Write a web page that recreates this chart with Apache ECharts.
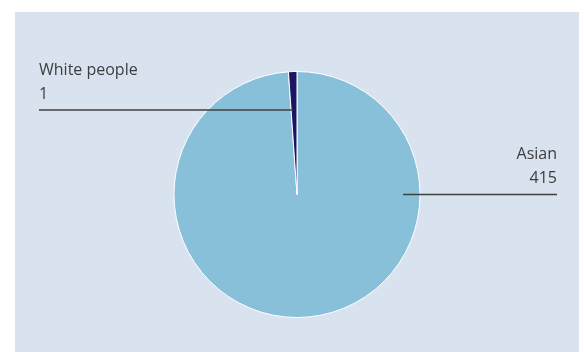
<!DOCTYPE html>
<html>
<head>
<meta charset="utf-8">
<style>
  html, body { margin: 0; padding: 0; background: #ffffff; }
  #chart { width: 584px; height: 352px; }
</style>
<script src="https://cdn.jsdelivr.net/npm/echarts@6/dist/echarts.min.js"></script>
</head>
<body>
<div id="chart"></div>
<script>
// Population by group
const categories = ['Asian', 'White people'];
const values = [415, 1];
const sliceColors = ['#88c0da', '#1b1464'];

// Pie geometry (pixels)
const CX = 297;
const CY = 194.5;
const R = 123;

// Label callouts: horizontal rule with the text sitting on top of it
const callouts = {
  'Asian':        { lineY: CY,        fromX: CX + 106, toX: 557, align: 'right' },
  'White people': { lineY: CY - 84.5, fromX: CX - 4,   toX: 39,  align: 'left' }
};

const pieBase = {
  type: 'pie',
  center: [CX, CY],
  radius: [0, R],
  startAngle: 90,
  clockwise: true,
  minAngle: 4,
  avoidLabelOverlap: false
};

const chart = echarts.init(document.getElementById('chart'), null, { renderer: 'canvas' });

chart.setOption({
  animation: false,
  backgroundColor: '#ffffff',
  graphic: [{
    type: 'rect',
    z: -10,
    silent: true,
    shape: { x: 15, y: 12, width: 564, height: 340 },
    style: { fill: '#d9e3ef' }
  }],
  series: [
    // Coloured slices
    Object.assign({}, pieBase, {
      z: 2,
      itemStyle: { borderColor: '#ffffff', borderWidth: 1 },
      label: { show: false },
      labelLine: { show: false },
      data: categories.map((name, i) => ({
        name: name,
        value: values[i],
        itemStyle: { color: sliceColors[i] }
      }))
    }),
    // Same pie, transparent, carrying the callout labels above the slices
    Object.assign({}, pieBase, {
      z: 5,
      silent: true,
      itemStyle: { color: 'rgba(0,0,0,0)', borderWidth: 0 },
      label: {
        show: true,
        position: 'outside',
        formatter: '{b}\n{c}',
        color: '#3d3d3d',
        fontFamily: '"Open Sans", sans-serif',
        fontSize: 16,
        lineHeight: 24
      },
      labelLine: {
        show: true,
        smooth: false,
        lineStyle: { color: '#3f3f3f', width: 1.6 }
      },
      labelLayout: function (params) {
        const c = callouts[categories[params.dataIndex]];
        return {
          x: c.toX,
          y: c.lineY - 4,
          align: c.align,
          verticalAlign: 'bottom',
          labelLinePoints: [[c.fromX, c.lineY], [c.fromX, c.lineY], [c.toX, c.lineY]]
        };
      },
      data: categories.map((name, i) => ({ name: name, value: values[i] }))
    })
  ]
});
</script>
</body>
</html>
